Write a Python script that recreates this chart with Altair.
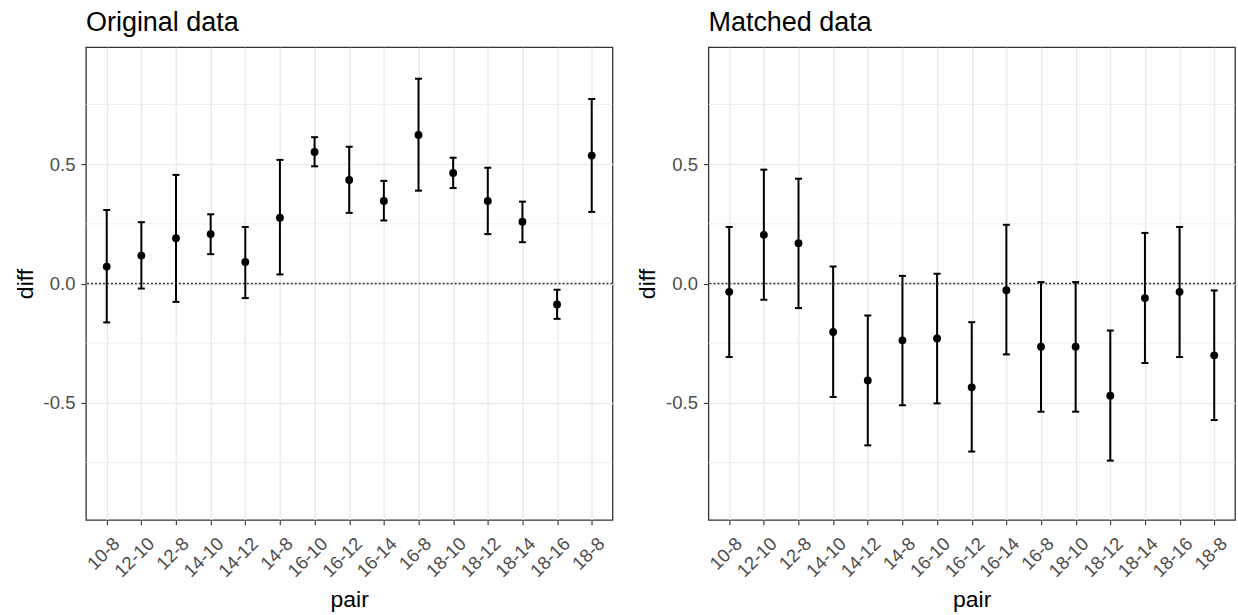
import altair as alt
import pandas as pd

pairs = ["10-8", "12-10", "12-8", "14-10", "14-12", "14-8", "16-10", "16-12",
         "16-14", "16-8", "18-10", "18-12", "18-14", "18-16", "18-8"]

orig_diff = [0.071, 0.117, 0.190, 0.207, 0.090, 0.276, 0.551, 0.434, 0.346, 0.622, 0.463, 0.346, 0.259, -0.088, 0.536]
orig_lo = [-0.163, -0.021, -0.077, 0.123, -0.061, 0.038, 0.491, 0.296, 0.264, 0.389, 0.400, 0.207, 0.173, -0.148, 0.300]
orig_hi = [0.308, 0.257, 0.455, 0.290, 0.237, 0.518, 0.613, 0.573, 0.430, 0.858, 0.527, 0.485, 0.343, -0.026, 0.773]

match_diff = [-0.035, 0.204, 0.169, -0.203, -0.406, -0.238, -0.230, -0.435, -0.028, -0.265, -0.265, -0.470, -0.061, -0.035, -0.301]
match_lo = [-0.308, -0.068, -0.103, -0.475, -0.678, -0.510, -0.502, -0.704, -0.297, -0.537, -0.537, -0.742, -0.333, -0.308, -0.572]
match_hi = [0.237, 0.477, 0.439, 0.071, -0.134, 0.032, 0.041, -0.162, 0.246, 0.006, 0.006, -0.197, 0.212, 0.237, -0.029]

major_y = [-0.5, 0.0, 0.5]
minor_y = [-0.75, -0.25, 0.25, 0.75]
y_domain = [-0.99, 0.99]

FONT = "Liberation Sans"
W, H = 527, 473


def panel(title, diff, lo, hi):
    df = pd.DataFrame({"pair": pairs, "diff": diff, "lo": lo, "hi": hi})
    x = alt.X("pair:N", sort=pairs,
              scale=alt.Scale(type="point", padding=0.6),
              axis=alt.Axis(title="pair", labelAngle=-45, labelAlign="right",
                            labelBaseline="top", labelPadding=9, labelOffset=3,
                            grid=True, gridColor="#EBEBEB", gridWidth=1.5,
                            domain=False, tickColor="#333333", tickWidth=1.1,
                            tickSize=5, labelFont=FONT, labelFontSize=18.5,
                            labelColor="#4D4D4D", titleFont=FONT,
                            titleFontSize=23, titleFontWeight="normal",
                            titleColor="black", titlePadding=8))
    yscale = alt.Scale(domain=y_domain, nice=False, zero=False)
    yaxis = alt.Axis(title="diff", values=major_y,
                     labelExpr="replace(format(datum.value, '.1f'), '\u2212', '-')",
                     grid=True, gridColor="#EBEBEB", gridWidth=1.5,
                     domain=False, tickColor="#333333", tickWidth=1.1,
                     tickSize=5, labelPadding=6, labelFont=FONT,
                     labelFontSize=18.5, labelColor="#4D4D4D",
                     titleFont=FONT, titleFontSize=23,
                     titleFontWeight="normal", titleColor="black",
                     titlePadding=6)

    minor = alt.Chart(pd.DataFrame({"v": minor_y})).mark_rule(
        color="#EBEBEB", strokeWidth=0.8).encode(
        y=alt.Y("v:Q", scale=yscale, axis=yaxis))

    bars = alt.Chart(df).mark_rule(color="black", strokeWidth=2).encode(
        x=x,
        y=alt.Y("lo:Q", scale=yscale, axis=yaxis),
        y2="hi:Q")
    cap_lo = alt.Chart(df).mark_tick(color="black", size=7, thickness=2,
                                     opacity=1).encode(
        x=x, y=alt.Y("lo:Q", scale=yscale, axis=yaxis))
    cap_hi = alt.Chart(df).mark_tick(color="black", size=7, thickness=2,
                                     opacity=1).encode(
        x=x, y=alt.Y("hi:Q", scale=yscale, axis=yaxis))
    zero = alt.Chart(pd.DataFrame({"z": [0.0]})).mark_rule(
        color="#333333", strokeWidth=1.4, strokeDash=[2, 2]).encode(
        y=alt.Y("z:Q", scale=yscale, axis=yaxis))
    pts = alt.Chart(df).mark_circle(color="black", size=62, opacity=1).encode(
        x=x, y=alt.Y("diff:Q", scale=yscale, axis=yaxis))

    return alt.layer(minor, bars, cap_lo, cap_hi, zero, pts).properties(
        width=W, height=H,
        view=alt.ViewBackground(stroke="#333333", strokeWidth=1.3),
        title=alt.TitleParams(title, anchor="start", frame="group",
                              font=FONT, fontSize=27, fontWeight="normal",
                              color="black", offset=-17, baseline="bottom"))


left = panel("Original data", orig_diff, orig_lo, orig_hi)
right = panel("Matched data", match_diff, match_lo, match_hi)

chart = alt.hconcat(left, right, spacing=96, bounds="flush").properties(
    padding={"left": 13, "top": 8, "right": 1, "bottom": 2}
).configure_view(stroke="#333333", strokeWidth=1.3).configure(
    background="white")

chart.save("out.html", embed_options={"renderer": "svg", "actions": False})
